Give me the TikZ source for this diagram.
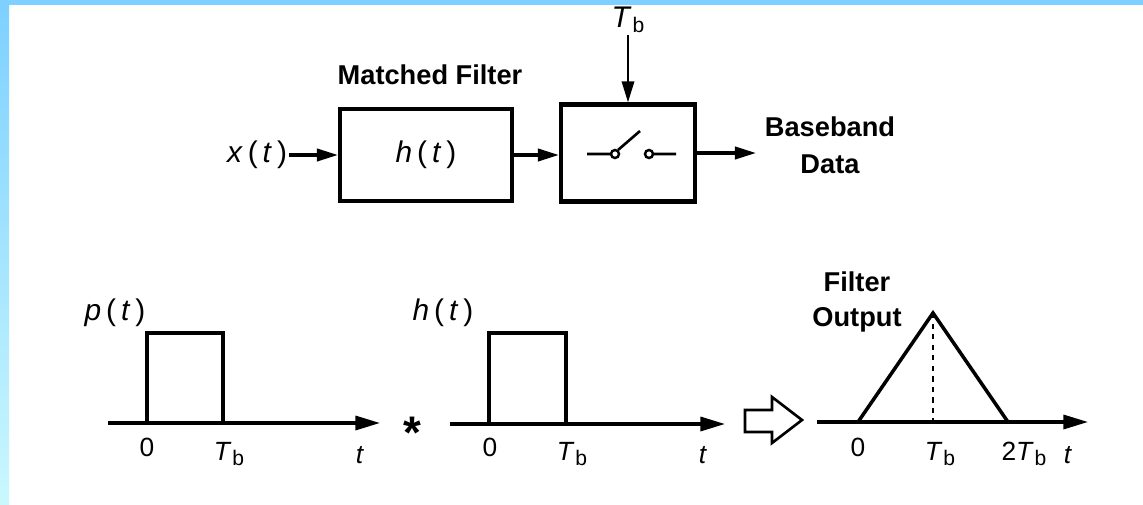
\documentclass[tikz,border=0pt]{standalone}
\usepackage{fontspec}
\setmainfont{Liberation Sans}
\usepackage{tikz}
\usetikzlibrary{positioning,arrows.meta}
\usepackage{xcolor}
\definecolor{stripa}{RGB}{125,208,255}
\definecolor{stripb}{RGB}{202,248,255}
\newcommand{\Tb}{\textit{T}\kern0.5pt\raisebox{-0.35ex}{\fontsize{12}{14}\selectfont b}}
\newcommand{\fn}[1]{\textit{#1}\,(\,\textit{t}\,)}
\begin{document}
\begin{tikzpicture}[x=0.02cm,y=-0.02cm,>={Triangle[length=12pt,width=7pt]},
  blk/.style={draw,line width=2.4pt,inner sep=0pt},
  lab/.style={font=\fontsize{17}{20}\selectfont,inner sep=1pt},
  tick/.style={font=\fontsize{15}{18}\selectfont,inner sep=1pt},
  ttl/.style={font=\bfseries\fontsize{15.5}{19}\selectfont,align=center,inner sep=1pt},
  axis/.style={line width=1.8pt,-{Triangle[length=14pt,width=8pt]}},
  sig/.style={line width=1.8pt}]
\useasboundingbox (0,0) rectangle (1143,504);
\fill[white] (0,0) rectangle (1143,504);
\shade[top color=stripa,bottom color=stripb] (0,0) rectangle (9,504);
\fill[stripa] (0,0) rectangle (1143,5);

\node[blk,minimum width=3.44cm,minimum height=1.84cm] (filt) at (426,155) {\fontsize{17}{20}\selectfont\fn{h}};
\node[blk,minimum width=2.68cm,minimum height=1.94cm] (samp) at (628,153) {};
\node[ttl] (mf) at (430,75) {Matched Filter};
\node[lab] (xin) at (257,155) {\fn{x}};
\node[lab] (tb) at (628,20) {\Tb};
\node[ttl] (bb) at (830,145) {Baseband\\[2pt]Data};
\coordinate (out) at (756,153);
\draw[line width=1.8pt,->] (xin) -- (filt);
\draw[line width=1.8pt,->] (filt) -- (filt -| samp.west);
\draw[line width=1.4pt,->] (tb) -- (samp.north);
\draw[line width=1.8pt,->] (samp.east |- out) -- (out);
\draw[line width=1.5pt] (587,154) -- (611,154) (618,150) -- (640,131) (653,154) -- (676,154);
\draw[line width=1.4pt] (615,154) circle (4) (649,154) circle (4);

\node[lab] (pt) at (115,313) {\fn{p}};
\draw[axis] (108,423) -- (380,423);
\draw[sig] (147,423) -- (147,333) -- (223,333) -- (223,423);
\node[tick] (p0) at (147,447) {0};
\node[tick] (p1) at (229,454) {\Tb};
\node[tick] (p2) at (360,455) {\textit{t}};
\node[font=\bfseries\fontsize{26}{26}\selectfont] (conv) at (412,433) {*};

\node[lab] (ht) at (443,313) {\fn{h}};
\draw[axis] (450,424) -- (725,424);
\draw[sig] (489,424) -- (489,333) -- (566,333) -- (566,424);
\node[tick] (h0) at (490,447) {0};
\node[tick] (h1) at (572,454) {\Tb};
\node[tick] (h2) at (703,455) {\textit{t}};

\draw[line width=1.5pt] (745,410) -- (772,410) -- (772,397) -- (802,420) -- (772,443) -- (772,432) -- (745,432) -- cycle;

\node[ttl,align=center] (fo) at (857,302) {Filter\\[1pt]Output};
\draw[axis] (817,422) -- (1088,422);
\draw[sig,line width=2pt] (858,422) -- (933,313) -- (1008,422);
\draw[line width=1.1pt,dashed] (933,313) -- (933,422);
\node[tick] (f0) at (858,447) {0};
\node[tick] (f1) at (940,454) {\Tb};
\node[tick] (f2) at (1024,454) {2\Tb};
\node[tick] (f3) at (1068,455) {\textit{t}};
\end{tikzpicture}
\end{document}
